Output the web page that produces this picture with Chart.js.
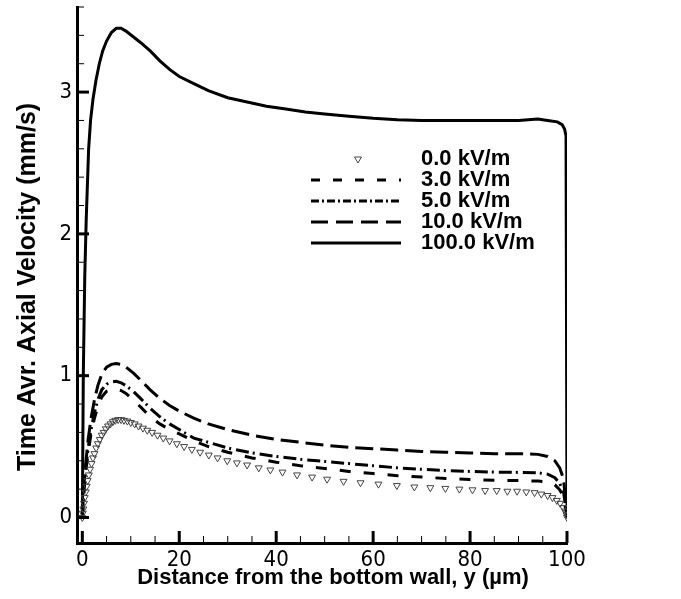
<!DOCTYPE html>
<html>
<head>
<meta charset="utf-8">
<script src="https://cdn.jsdelivr.net/npm/chart.js@4.4.1/dist/chart.umd.min.js"></script>
<style>
    html, body { margin: 0; padding: 0; background: #ffffff; }
</style>
</head>
<body>
<canvas id="grafico" width="681" height="599"></canvas>
<script>
const series = ['0.0 kV/m', '3.0 kV/m', '5.0 kV/m', '10.0 kV/m', '100.0 kV/m'];
const ticksX = [0, 20, 40, 60, 80, 100];
const ticksY = [0, 1, 2, 3];

// 0.0 kV/m (triangulos)
const x0 = [0, 0.1, 0.2, 0.35, 0.5, 0.7, 0.9, 1.1, 1.35, 1.6, 1.9, 2.2, 2.5, 2.85, 3.2, 3.6, 4.0, 4.4, 4.85, 5.3,
    5.8, 6.3, 6.8, 7.4, 8.0, 8.6, 9.3, 10.0, 10.8, 11.6, 12.5, 13.4, 14.4, 15.5, 16.7, 18.0, 19.5, 21.0, 22.6, 24.3,
    26.1, 27.9, 29.9, 31.9, 34.0, 36.4, 38.8, 41.3, 44.3, 47.4, 50.5, 53.9, 57.4, 61.1, 64.9, 68.5, 71.8, 74.9, 77.8, 80.5,
    83.1, 85.5, 87.7, 89.7, 91.6, 93.3, 94.7, 96.0, 97.0, 97.9, 98.6, 99.2, 99.6, 99.9, 100];
const y0 = [0, 0.03, 0.06, 0.1, 0.14, 0.18, 0.22, 0.26, 0.3, 0.34, 0.38, 0.42, 0.45, 0.49, 0.52, 0.55, 0.58, 0.6, 0.625, 0.645,
    0.66, 0.675, 0.685, 0.69, 0.69, 0.685, 0.68, 0.67, 0.66, 0.645, 0.63, 0.615, 0.6, 0.58, 0.56, 0.54, 0.52, 0.5, 0.48, 0.46,
    0.44, 0.42, 0.4, 0.385, 0.37, 0.35, 0.335, 0.32, 0.3, 0.285, 0.27, 0.255, 0.245, 0.235, 0.225, 0.215, 0.21, 0.205, 0.2, 0.195,
    0.19, 0.19, 0.185, 0.185, 0.18, 0.175, 0.165, 0.155, 0.14, 0.12, 0.1, 0.07, 0.045, 0.02, 0];

// 3, 5 e 10 kV/m
const xLinhas = [0, 0.3, 0.7, 1.2, 1.8, 2.5, 3.2, 4.0, 5.0, 6.0, 7.0, 8.0, 9.0, 10.5, 12, 14, 16, 18, 20, 23,
    26, 30, 35, 40, 45, 50, 55, 60, 65, 70, 75, 80, 85, 90, 94, 96, 97.5, 98.5, 99.3, 100];
const y3 = [0, 0.17, 0.32, 0.46, 0.59, 0.7, 0.78, 0.85, 0.89, 0.905, 0.905, 0.895, 0.875, 0.83, 0.78, 0.71, 0.66, 0.62, 0.59, 0.54,
    0.5, 0.46, 0.42, 0.39, 0.365, 0.345, 0.325, 0.31, 0.295, 0.285, 0.275, 0.268, 0.262, 0.26, 0.257, 0.25, 0.23, 0.195, 0.145, 0];
const y5 = [0, 0.18, 0.34, 0.49, 0.62, 0.74, 0.83, 0.9, 0.94, 0.955, 0.96, 0.95, 0.93, 0.89, 0.84, 0.77, 0.71, 0.66, 0.62, 0.56,
    0.53, 0.49, 0.455, 0.43, 0.41, 0.395, 0.38, 0.365, 0.35, 0.34, 0.33, 0.325, 0.32, 0.318, 0.315, 0.305, 0.28, 0.24, 0.18, 0];
const y10 = [0, 0.2, 0.38, 0.55, 0.7, 0.83, 0.93, 1.01, 1.06, 1.08, 1.085, 1.08, 1.06, 1.02, 0.97, 0.9, 0.84, 0.79, 0.75, 0.7,
    0.66, 0.62, 0.58, 0.55, 0.53, 0.51, 0.495, 0.485, 0.475, 0.465, 0.46, 0.455, 0.45, 0.45, 0.445, 0.43, 0.40, 0.35, 0.27, 0];

// 100 kV/m
const x100 = [0, 0.2, 0.5, 0.8, 1.0, 1.3, 1.7, 2.2, 2.8, 3.5, 4.2, 5.0, 6.0, 7.0, 8.0, 9.0, 10.5, 12, 14, 16,
    18, 20, 23, 26, 30, 34, 38, 42, 46, 50, 55, 60, 65, 70, 75, 80, 85, 90, 94, 96, 98, 99, 99.5, 99.8, 100];
const y100 = [0, 1.0, 1.7, 2.1, 2.3, 2.6, 2.8, 2.95, 3.08, 3.2, 3.29, 3.36, 3.42, 3.45, 3.45, 3.43, 3.39, 3.35, 3.29, 3.22,
    3.16, 3.11, 3.06, 3.01, 2.96, 2.93, 2.90, 2.88, 2.86, 2.845, 2.83, 2.815, 2.805, 2.80, 2.80, 2.80, 2.80, 2.80, 2.81, 2.80,
    2.79, 2.77, 2.74, 2.69, 0];

const fonte = '"Liberation Sans", Arial, Helvetica, sans-serif';
const fonteNumeros = '"Liberation Sans Narrow", "Arial Narrow", "DejaVu Sans Condensed", sans-serif';
const pontos = (xs, ys) => xs.map((x, i) => ({ x: x, y: ys[i] }));

const linha = (label, xs, ys, dash) => ({
    label: label,
    data: pontos(xs, ys),
    showLine: true,
    borderColor: '#000000',
    borderWidth: 3,
    borderDash: dash,
    pointRadius: 0,
    tension: 0
});

// marcas dos eixos (para dentro), maiores e menores
const marcasEixos = {
    id: 'marcasEixos',
    afterDraw(chart) {
        const { ctx, chartArea: area, scales: { x, y } } = chart;
        ctx.save();
        ctx.strokeStyle = '#000000';
        for (let i = 0; i <= 20; i++) {
            const px = x.getPixelForValue(i * 5);
            const maior = i % 4 === 0;
            ctx.lineWidth = maior ? 3 : 1;
            ctx.beginPath();
            ctx.moveTo(px, area.bottom);
            ctx.lineTo(px, area.bottom - (maior ? 12 : 7));
            ctx.stroke();
        }
        for (let i = 0; i <= 18; i++) {
            const py = y.getPixelForValue(i * 0.2);
            const maior = i % 5 === 0;
            ctx.lineWidth = maior ? 3 : 1;
            ctx.beginPath();
            ctx.moveTo(area.left, py);
            ctx.lineTo(area.left + (maior ? 12 : 7), py);
            ctx.stroke();
        }
        ctx.restore();
    }
};

const titulosEixos = {
    id: 'titulosEixos',
    afterDraw(chart) {
        const ctx = chart.ctx;
        ctx.save();
        ctx.fillStyle = '#000000';
        ctx.textAlign = 'center';
        ctx.textBaseline = 'middle';
        ctx.font = 'bold 22px ' + fonte;
        ctx.fillText('Distance from the bottom wall, y (µm)', 333, 578);
        ctx.font = 'bold 25px ' + fonte;
        ctx.translate(28, 287);
        ctx.rotate(-Math.PI / 2);
        ctx.fillText('Time Avr. Axial Velocity (mm/s)', 0, 0);
        ctx.restore();
    }
};

const legenda = {
    id: 'legenda',
    afterDraw(chart) {
        const ctx = chart.ctx;
        const linhasY = [159, 180, 201, 222, 243];
        const tracos = [[], [9, 13], [8, 3, 2, 3], [17, 8], []];
        ctx.save();
        series.forEach((nome, i) => {
            const y = linhasY[i];
            if (i === 0) {
                ctx.fillStyle = 'rgba(0,0,0,0)';
                ctx.strokeStyle = '#444444';
                ctx.lineWidth = 1;
                Chart.helpers.drawPoint(ctx, { pointStyle: 'triangle', rotation: 180, radius: 4, borderWidth: 1 }, 358, y);
            } else {
                ctx.strokeStyle = '#000000';
                ctx.lineWidth = 3;
                ctx.setLineDash(tracos[i]);
                ctx.beginPath();
                ctx.moveTo(311, y);
                ctx.lineTo(401, y);
                ctx.stroke();
                ctx.setLineDash([]);
            }
            ctx.fillStyle = '#000000';
            ctx.font = 'bold 22px ' + fonte;
            ctx.textAlign = 'left';
            ctx.textBaseline = 'middle';
            ctx.fillText(nome, 421, y);
        });
        ctx.restore();
    }
};

new Chart(document.getElementById('grafico'), {
    type: 'scatter',
    data: {
        datasets: [
            {
                label: series[0],
                data: pontos(x0, y0),
                showLine: false,
                pointStyle: 'triangle',
                rotation: 180,
                pointRadius: 4,
                pointBorderWidth: 1,
                pointBorderColor: '#444444',
                pointBackgroundColor: 'rgba(255,255,255,0)'
            },
            linha(series[1], xLinhas, y3, [11, 13]),
            linha(series[2], xLinhas, y5, [13, 4, 2, 5]),
            linha(series[3], xLinhas, y10, [18, 7]),
            linha(series[4], x100, y100, [])
        ]
    },
    options: {
        responsive: false,
        animation: false,
        devicePixelRatio: 1,
        layout: { padding: { top: 7, right: 114, left: 0, bottom: 0 } },
        plugins: {
            legend: { display: false },
            tooltip: { enabled: false }
        },
        scales: {
            x: {
                type: 'linear',
                min: -1.1,
                max: 100,
                afterFit: (s) => { s.height = 56; s.paddingLeft = 0; s.paddingRight = 0; },
                afterBuildTicks: (s) => { s.ticks = ticksX.map(v => ({ value: v })); },
                grid: { display: false, drawTicks: false },
                border: { display: true, color: '#000000', width: 3 },
                ticks: { color: '#000000', padding: 4, maxRotation: 0, font: { family: fonteNumeros, size: 22 } }
            },
            y: {
                type: 'linear',
                min: -0.18,
                max: 3.6,
                afterFit: (s) => { s.width = 77; s.paddingTop = 0; s.paddingBottom = 0; },
                afterBuildTicks: (s) => { s.ticks = ticksY.map(v => ({ value: v })); },
                grid: { display: false, drawTicks: false },
                border: { display: true, color: '#000000', width: 3 },
                ticks: { color: '#000000', padding: 5, font: { family: fonteNumeros, size: 22 } }
            }
        }
    },
    plugins: [marcasEixos, titulosEixos, legenda]
});
</script>
</body>
</html>
